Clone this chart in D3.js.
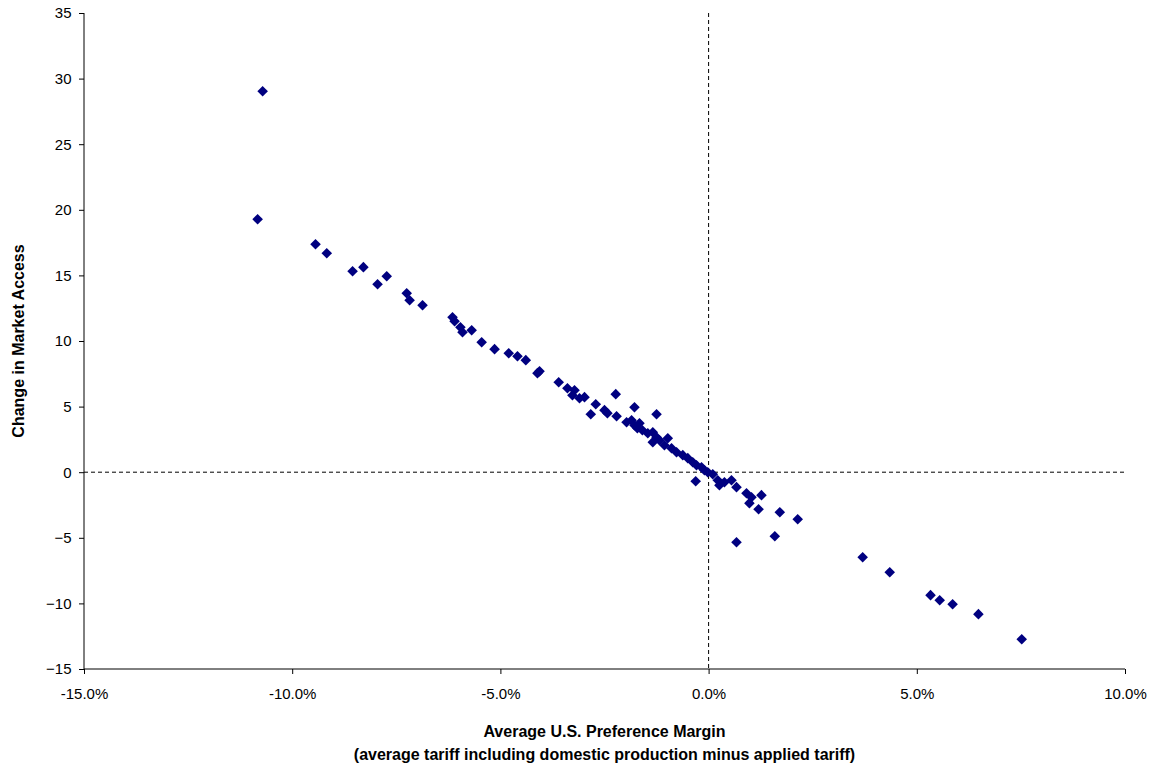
<!DOCTYPE html>
<html><head><meta charset="utf-8">
<script src="https://cdn.jsdelivr.net/npm/d3@7"></script>
<style>body{margin:0;background:#fff}text{font-family:Arial,"Liberation Sans",sans-serif}</style>
</head><body><svg id="chart" width="1160" height="770"></svg>
<script>
// preference margin (%) and change in market access
var marginPct = [-10.71,-10.83,-9.44,-9.17,-8.55,-8.29,-7.95,-7.73,-7.25,-7.18,-6.87,-6.15,-6.10,-5.96,-5.91,-5.69,-5.45,-5.14,-4.80,-4.59,-4.39,-4.06,
  -4.11,-3.60,-3.39,-3.22,-3.27,-3.10,-2.98,-2.23,-2.71,-2.83,-2.50,-2.43,-2.21,-1.78,-1.25,-1.97,-1.85,-1.78,-1.66,-1.71,-1.59,-1.46,-1.34,-1.25,-1.34,-1.18,-0.98,-1.06,-0.89,-0.77,-0.62,-0.50,-0.38,-0.29,-0.17,-0.10,-0.02,-0.31,
  0.10,0.22,0.26,0.38,0.55,0.67,0.91,0.98,1.03,1.27,1.20,1.71,2.14,0.67,1.59,3.70,4.35,5.33,5.55,5.86,6.48,7.52];
var accessChange = [29.04,19.28,17.38,16.69,15.32,15.63,14.33,14.94,13.64,13.11,12.73,11.81,11.51,11.05,10.67,10.82,9.91,9.38,9.07,8.84,8.54,7.70,
  7.55,6.86,6.40,6.25,5.87,5.64,5.72,5.95,5.18,4.42,4.73,4.50,4.27,4.95,4.42,3.81,3.96,3.58,3.73,3.35,3.20,2.97,3.05,2.67,2.29,2.44,2.59,2.06,1.83,1.52,1.30,1.07,0.76,0.53,0.38,0.15,0,-0.69,
  -0.15,-0.61,-0.99,-0.76,-0.61,-1.14,-1.60,-2.36,-1.91,-1.75,-2.82,-3.05,-3.58,-5.34,-4.88,-6.48,-7.62,-9.37,-9.76,-10.06,-10.82,-12.73];
var xTicks = [-15,-10,-5,0,5,10];
var yTicks = [-15,-10,-5,0,5,10,15,20,25,30,35];

var svg = d3.select("#chart");
var L = 84, R = 1125, T = 13, B = 669;
var x = d3.scaleLinear().domain([-15,10]).range([L,R]);
var y = d3.scaleLinear().domain([-15,35]).range([B,T]);

svg.append("line").attr("x1",x(0)).attr("x2",x(0)).attr("y1",T).attr("y2",B)
    .attr("stroke","#000").attr("stroke-dasharray","4,3");
svg.append("line").attr("x1",L).attr("x2",R).attr("y1",y(0)).attr("y2",y(0))
    .attr("stroke","#000").attr("stroke-dasharray","4,3");

var xa = svg.append("g").attr("transform","translate(0,"+B+")")
    .call(d3.axisBottom(x).tickValues(xTicks).tickSize(5).tickFormat(function(d){ return d.toFixed(1)+"%"; }));
xa.selectAll("text").attr("dy","1.45em").style("font-size","15px");
var ya = svg.append("g").attr("transform","translate("+L+",0)")
    .call(d3.axisLeft(y).tickValues(yTicks).tickSize(5));
ya.selectAll("text").attr("dx","-0.3em").style("font-size","15px");
svg.selectAll(".domain").attr("stroke","#000");
xa.selectAll("path.domain").attr("d","M"+L+",0H"+R);
ya.selectAll("path.domain").attr("d","M0,"+T+"V"+B);

svg.selectAll("path.pt").data(marginPct).enter().append("path")
    .attr("class","pt")
    .attr("d", d3.symbol().type(d3.symbolSquare).size(56))
    .attr("transform", function(d,i){ return "translate("+x(d)+","+y(accessChange[i])+") rotate(45)"; })
    .attr("fill","#000080");

svg.append("text").attr("x",(L+R)/2).attr("y",737).attr("text-anchor","middle")
    .style("font-size","16px").style("font-weight","bold").text("Average U.S. Preference Margin");
svg.append("text").attr("x",(L+R)/2).attr("y",760).attr("text-anchor","middle")
    .style("font-size","16px").style("font-weight","bold").text("(average tariff including domestic production minus applied tariff)");
svg.append("text").attr("transform","translate(24,"+((T+B)/2)+") rotate(-90)").attr("text-anchor","middle")
    .style("font-size","16px").style("font-weight","bold").text("Change in Market Access");
</script></body></html>
